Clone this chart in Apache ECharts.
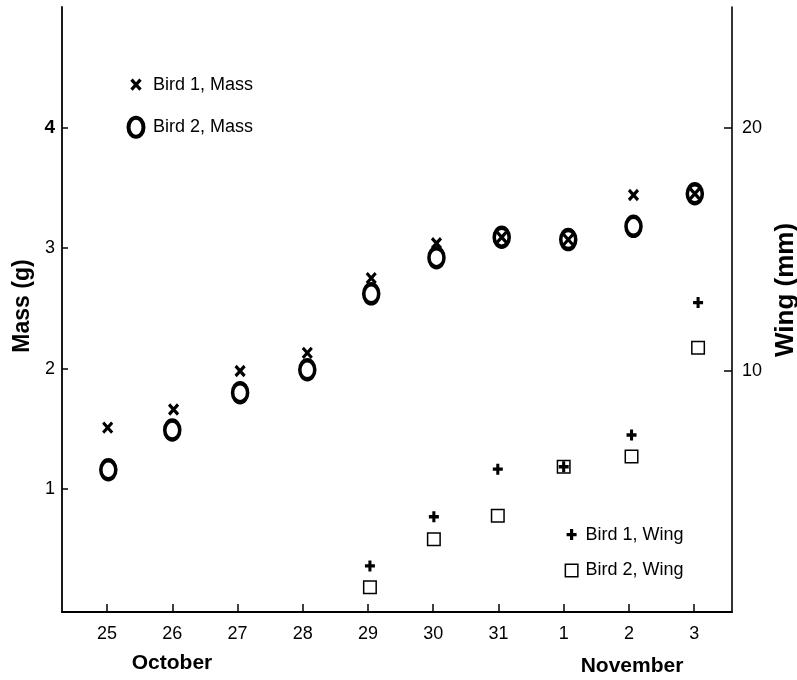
<!DOCTYPE html>
<html>
<head>
<meta charset="utf-8">
<script src="https://cdn.jsdelivr.net/npm/echarts@6/dist/echarts.min.js"></script>
<style>
html,body{margin:0;padding:0;background:#fff;}
#chart{width:797px;height:680px;}
</style>
</head>
<body>
<div id="chart"></div>
<script>
// ---- data ----
var dayLabels = ['25','26','27','28','29','30','31','1','2','3'];
var dayTicks = [0,1,2,3,4,5,6,7,8,9];
var massTicks = [1,2,3,4];
var wingTicks = [10,20];

// measurement positions (day index, with slight time offsets)
var massDayPos1 = [0.01,1.02,2.04,3.07,4.05,5.05,6.05,7.07,8.07,9.01];
var massDayPos2 = [0.02,1.0,2.04,3.07,4.05,5.05,6.05,7.07,8.07,9.01];
var bird1Mass = [1.51,1.66,1.98,2.13,2.75,3.04,3.09,3.07,3.44,3.45];
var bird2Mass = [1.16,1.49,1.80,1.99,2.62,2.92,3.09,3.07,3.18,3.45];

var wingDayPos = [4.03,5.01,5.99,7.0,8.04,9.06];
var bird1Wing = [1.95,3.98,5.94,6.04,7.35,12.81];
var bird2Wing = [1.07,3.05,4.02,6.04,6.46,10.95];

function pairs(xs, ys){ return ys.map(function(v,i){ return [xs[i], v]; }); }

var FONT = 'Liberation Sans, Arial, sans-serif';
var P_X = 'path://M0,0L9,10M9,0L0,10';
var P_O = 'path://M7.5,0A7.5,9.5,0,1,1,7.5,19A7.5,9.5,0,1,1,7.5,0Z';
var P_PLUS = 'path://M5,0L5,11M0,5.5L10,5.5';
var P_SQ = 'path://M0,0L12.5,0L12.5,12.5L0,12.5Z';

var chart = echarts.init(document.getElementById('chart'), null, {renderer:'canvas'});
var clear = 'rgba(0,0,0,0)';
function mk(w){ return {color: clear, borderColor: '#000', borderWidth: w, opacity: 1}; }
chart.setOption({
  animation: false,
  backgroundColor: '#fff',
  grid: {left: 62, right: 65, top: 7, bottom: 68, containLabel: false},
  xAxis: {
    type: 'value', min: -0.69, max: 9.58,
    axisLine: {show: true, onZero: false, lineStyle: {color: '#000', width: 2}},
    axisTick: {show: true, inside: true, length: 8, customValues: dayTicks, lineStyle: {color: '#000', width: 1.5}},
    axisLabel: {customValues: dayTicks, margin: 13, color: '#000', fontSize: 18, fontFamily: FONT,
      formatter: function(v){ return dayLabels[Math.round(v)]; }},
    splitLine: {show: false}
  },
  yAxis: [{
    type: 'value', min: -0.02, max: 5, position: 'left',
    axisLine: {show: true, onZero: false, lineStyle: {color: '#000', width: 1.8}},
    axisTick: {show: true, inside: true, length: 6, customValues: massTicks, lineStyle: {color: '#000', width: 1.5}},
    axisLabel: {customValues: massTicks, margin: 7, color: '#000', fontSize: 18, fontFamily: FONT,
      formatter: function(v){ return v === 4 ? '{b|4}' : String(v); },
      rich: {b: {fontWeight: 'bold', fontSize: 19, fontFamily: FONT, color: '#000'}}},
    splitLine: {show: false}
  },{
    type: 'value', min: 0.05, max: 25, position: 'right',
    axisLine: {show: true, onZero: false, lineStyle: {color: '#000', width: 1.6}},
    axisTick: {show: true, inside: true, length: 8, customValues: wingTicks, lineStyle: {color: '#000', width: 1.5}},
    axisLabel: {customValues: wingTicks, margin: 10, color: '#000', fontSize: 18, fontFamily: FONT},
    splitLine: {show: false}
  }],
  legend: [{
    orient: 'vertical', left: 122, top: 73, padding: 0,
    itemWidth: 24, itemHeight: 20, itemGap: 19, selectedMode: false,
    textStyle: {color: '#000', fontSize: 18, fontFamily: FONT},
    data: [
      {name: 'Bird 1, Mass', icon: 'path://M0,0M24,20M7.5,5L16.5,15M16.5,5L7.5,15', itemStyle: mk(3.2)},
      {name: 'Bird 2, Mass', icon: 'path://M0,0M24,20M12,0.5A7.5,9.5,0,1,1,12,19.5A7.5,9.5,0,1,1,12,0.5Z', itemStyle: mk(4)}
    ]
  },{
    orient: 'vertical', left: 561, top: 523, padding: 0,
    itemWidth: 18, itemHeight: 20, itemGap: 13.5, selectedMode: false,
    textStyle: {color: '#000', fontSize: 18, fontFamily: FONT},
    data: [
      {name: 'Bird 1, Wing', icon: 'path://M0,0M18,20M9,4.5L9,15.5M4,10L14,10', itemStyle: mk(3.2)},
      {name: 'Bird 2, Wing', icon: 'path://M0,0M18,20M2.75,3.75L15.25,3.75L15.25,16.25L2.75,16.25Z', itemStyle: mk(1.5)}
    ]
  }],
  series: [{
    name: 'Bird 1, Mass', type: 'scatter', yAxisIndex: 0,
    symbol: P_X, symbolSize: [9, 10],
    itemStyle: mk(3.2),
    emphasis: {disabled: true},
    data: pairs(massDayPos1, bird1Mass)
  },{
    name: 'Bird 2, Mass', type: 'scatter', yAxisIndex: 0,
    symbol: P_O, symbolSize: [15, 19],
    itemStyle: mk(4),
    emphasis: {disabled: true},
    data: pairs(massDayPos2, bird2Mass)
  },{
    name: 'Bird 1, Wing', type: 'scatter', yAxisIndex: 1,
    symbol: P_PLUS, symbolSize: [10, 11],
    itemStyle: mk(3.2),
    emphasis: {disabled: true},
    data: pairs(wingDayPos, bird1Wing)
  },{
    name: 'Bird 2, Wing', type: 'scatter', yAxisIndex: 1,
    symbol: P_SQ, symbolSize: [12.5, 12.5],
    itemStyle: mk(1.5),
    emphasis: {disabled: true},
    data: pairs(wingDayPos, bird2Wing)
  }],
  graphic: [
    {type: 'text', x: 172, y: 663, style: {text: 'October', fill: '#000', font: 'bold 21px ' + FONT, align: 'center', verticalAlign: 'middle'}},
    {type: 'text', x: 632, y: 666, style: {text: 'November', fill: '#000', font: 'bold 21px ' + FONT, align: 'center', verticalAlign: 'middle'}},
    {type: 'text', x: 23, y: 306, rotation: Math.PI/2, style: {text: 'Mass (g)', fill: '#000', font: 'bold 23px ' + FONT, align: 'center', verticalAlign: 'middle'}},
    {type: 'text', x: 786, y: 290, rotation: Math.PI/2, style: {text: 'Wing (mm)', fill: '#000', font: 'bold 26px ' + FONT, align: 'center', verticalAlign: 'middle'}}
  ]
});
</script>
</body>
</html>
